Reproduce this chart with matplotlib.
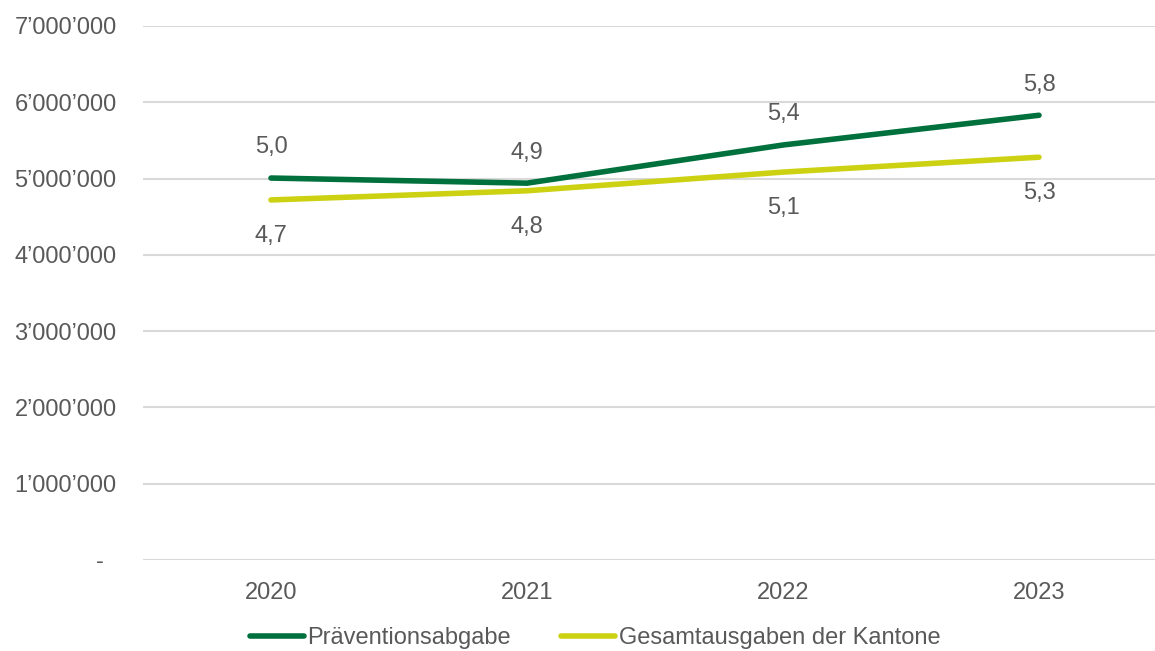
import matplotlib.pyplot as plt
from matplotlib.ticker import FixedLocator

plt.rcParams['font.family'] = ['Liberation Sans', 'DejaVu Sans']

years = ['2020', '2021', '2022', '2023']
praevention = [5.007e6, 4.94e6, 5.44e6, 5.83e6]
kantone = [4.72e6, 4.84e6, 5.085e6, 5.28e6]
y_ticks = [0, 1e6, 2e6, 3e6, 4e6, 5e6, 6e6, 7e6]
y_labels = ['-  ', '1\u2019000\u2019000', '2\u2019000\u2019000', '3\u2019000\u2019000',
            '4\u2019000\u2019000', '5\u2019000\u2019000', '6\u2019000\u2019000', '7\u2019000\u2019000']

green = '#00703C'
yellow = '#CCD112'
text_col = '#595959'

fig = plt.figure(figsize=(11.55, 6.51), dpi=100)
ax = fig.add_axes([143 / 1155, (651 - 560) / 651, (1155 - 143) / 1155, 534 / 651])

x = range(len(years))
ax.plot(x, praevention, color=green, lw=4, solid_capstyle='round',
        label='Präventionsabgabe', zorder=3)
ax.plot(x, kantone, color=yellow, lw=4, solid_capstyle='round',
        label='Gesamtausgaben der Kantone', zorder=3)

# data labels in millions, German decimal comma
for i in x:
    ax.annotate(f'{praevention[i] / 1e6:.1f}'.replace('.', ','), (i, praevention[i]),
                xytext=(0, 22), textcoords='offset points', ha='center', va='center',
                fontsize=17, color=text_col)
    ax.annotate(f'{kantone[i] / 1e6:.1f}'.replace('.', ','), (i, kantone[i]),
                xytext=(0, -26), textcoords='offset points', ha='center', va='center',
                fontsize=17, color=text_col)

ax.set_xlim(-0.5, -0.5 + (1155 - 143) / 256)
ax.set_ylim(0, 7e6)
ax.set_xticks(list(x))
ax.set_xticklabels(years)
ax.yaxis.set_major_locator(FixedLocator(y_ticks))
ax.set_yticklabels(y_labels)
ax.tick_params(axis='both', length=0, labelsize=17, labelcolor=text_col)
ax.tick_params(axis='y', pad=19)
ax.tick_params(axis='x', pad=16)
ax.grid(axis='y', color='#D9D9D9', lw=1.5)
ax.set_axisbelow(True)
for s in ax.spines.values():
    s.set_visible(False)

leg = fig.legend(loc='center', bbox_to_anchor=(595 / 1155, 1 - 638 / 651), ncol=2,
                 frameon=False, fontsize=17, handlelength=2.3, handletextpad=0.15,
                 columnspacing=2.1)
for t in leg.get_texts():
    t.set_color(text_col)

fig.savefig('out.png', dpi=100)
